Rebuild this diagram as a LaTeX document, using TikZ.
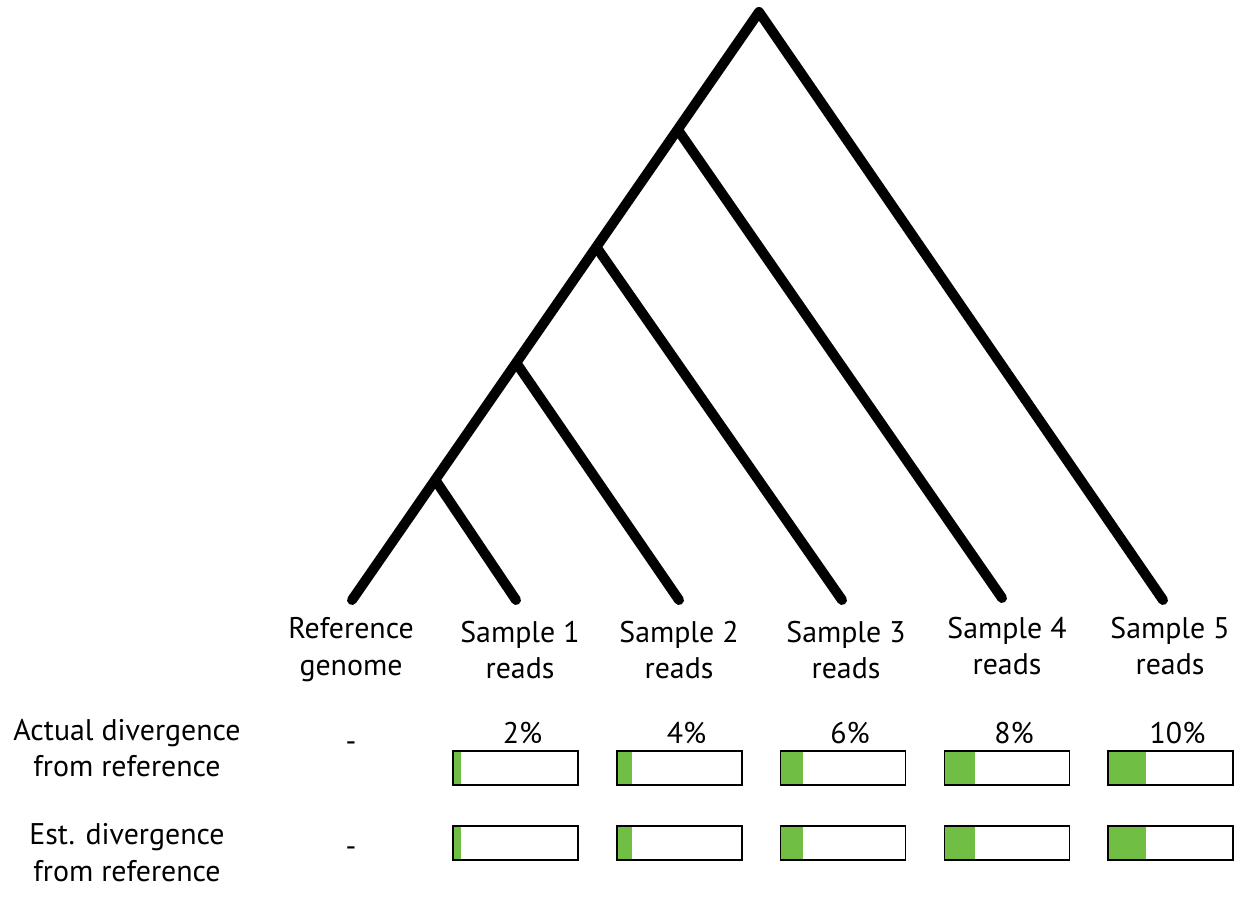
\documentclass[tikz,border=0pt]{standalone}
\usepackage{fontspec}
\setmainfont{PT Sans}
\usepackage{xcolor}
\definecolor{divgreen}{HTML}{70BF44}
\usetikzlibrary{positioning}

\begin{document}
\begin{tikzpicture}[x=0.02cm, y=-0.02cm,
  branch/.style={line width=0.2cm, line cap=round, black},
  lbl/.style={align=center, font=\fontsize{17}{21}\selectfont},
  barbox/.style={draw=black, line width=1.1pt, minimum width=2.5cm, minimum height=0.68cm, inner sep=0pt}
]
  \useasboundingbox (0,0) rectangle (1244,906);
  % tree
  \coordinate (root) at (759,12);
  \coordinate (n4) at (678,130);
  \coordinate (n3) at (597,248);
  \coordinate (n2) at (517,364);
  \coordinate (n1) at (436,481);
  \coordinate (ref) at (352,600);
  \coordinate (s1) at (516,600);
  \coordinate (s2) at (679,600);
  \coordinate (s3) at (842,600);
  \coordinate (s4) at (1002,598);
  \coordinate (s5) at (1163,600);
  \draw[branch, line join=round] (ref) -- (root) -- (s5);
  \draw[branch] (n1) -- (s1);
  \draw[branch] (n2) -- (s2);
  \draw[branch] (n3) -- (s3);
  \draw[branch] (n4) -- (s4);
  % leaf labels
  \node[lbl] (lref) at (351,650) {Reference\\genome};
  \foreach \i/\x/\y in {1/520/650, 2/679/650, 3/846/650, 4/1007/646, 5/1170/646}{
    \node[lbl] (l\i) at (\x,\y) {Sample \i\\reads};
  }
  % row labels
  \node[lbl] (actlbl) at (127,748) {Actual divergence\\from reference};
  \node[lbl] (estlbl) at (127,853) {Est. divergence\\from reference};
  \node[lbl] (dact) at (351,747) {-};
  \node[lbl] (dest) at (351,852) {-};
  % divergence bars
  \foreach \i/\x/\p in {1/515.5/2, 2/679.5/4, 3/843/6, 4/1007/8, 5/1170.5/10}{
    \fill[divgreen] (\x-62.5,751) rectangle ++(3.75*\p,34);
    \fill[divgreen] (\x-62.5,826) rectangle ++(3.75*\p,34);
    \node[barbox] (act\i) at (\x,768) {};
    \node[barbox] (est\i) at (\x,843) {};
    \node[lbl, above=0pt of act\i, xshift=4pt] (pct\i) {\p\%};
  }
\end{tikzpicture}
\end{document}
